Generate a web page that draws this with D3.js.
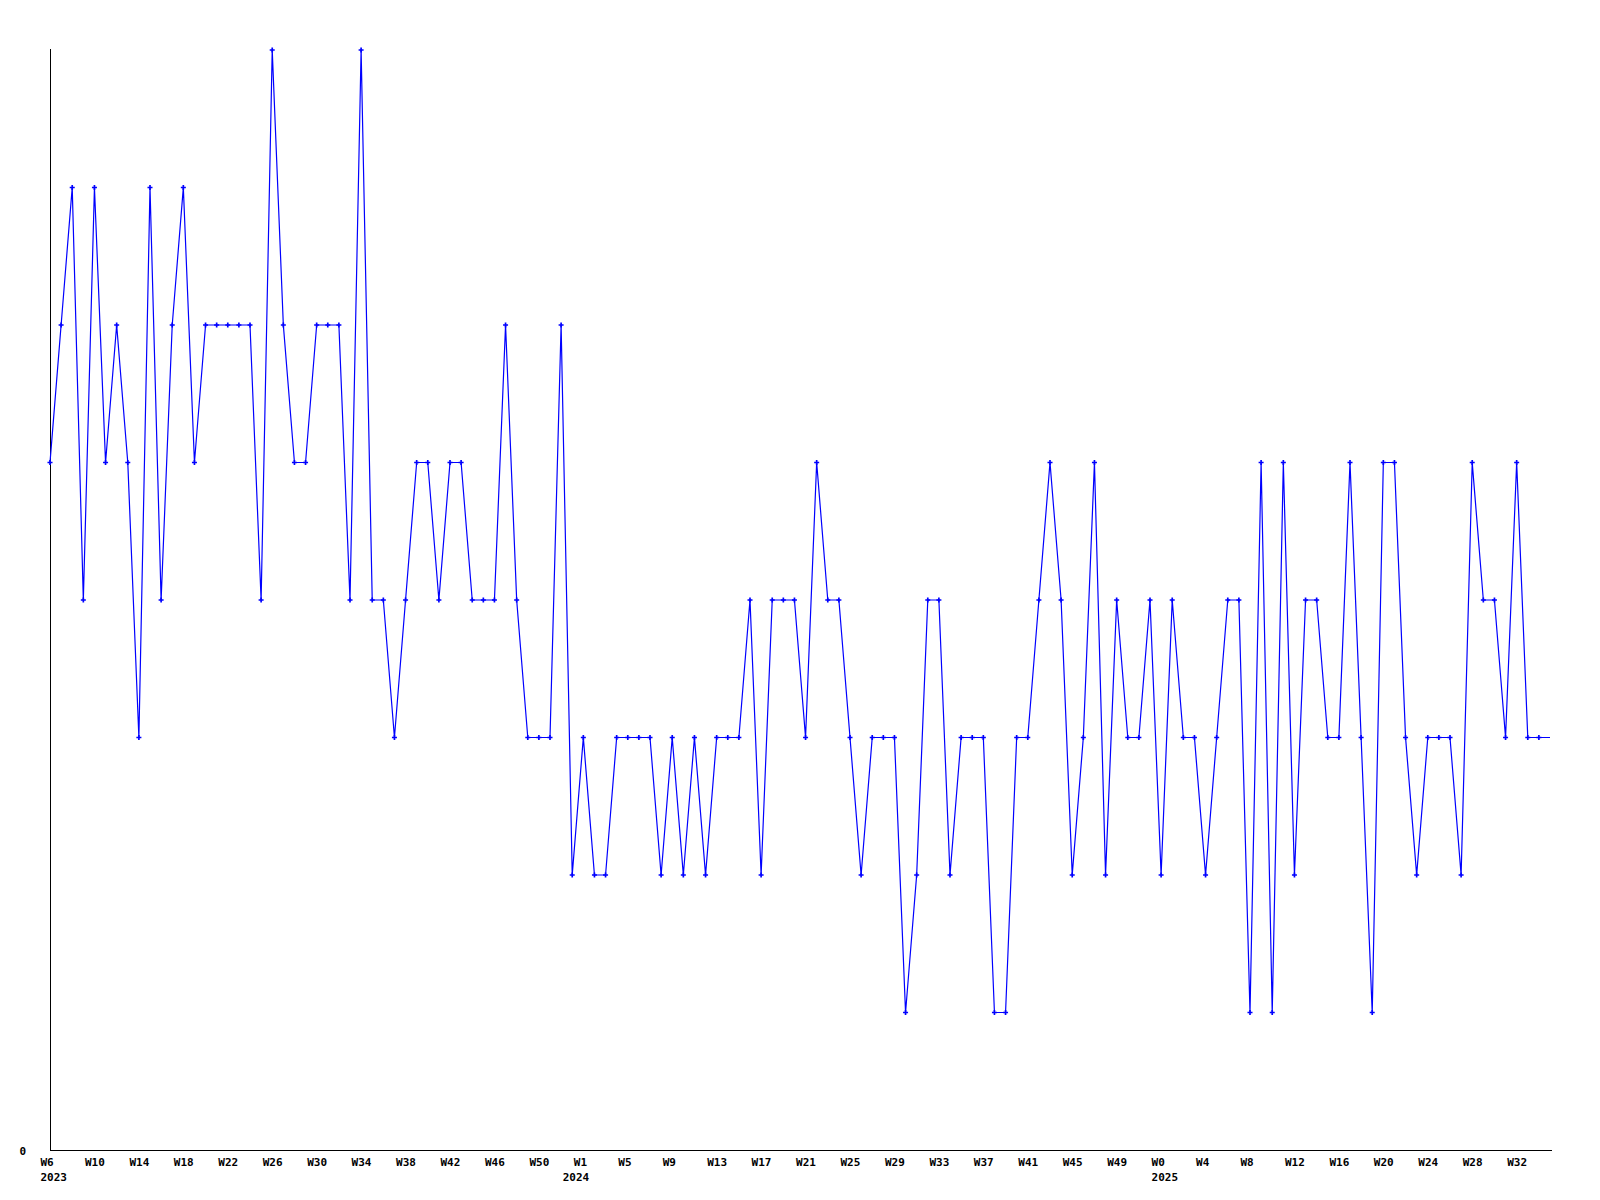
<!DOCTYPE html>
<html>
<head>
<meta charset="utf-8">
<script src="https://cdn.jsdelivr.net/npm/d3@7"></script>
<style>
  html, body { margin: 0; padding: 0; background: #fff; }
  svg { display: block; }
  .tick text { font-family: "DejaVu Sans Mono", monospace; font-weight: bold; font-size: 11px; fill: #000; }
</style>
</head>
<body>
<svg id="chart" width="1600" height="1200"></svg>
<script>
// Weekly values, 2023 W6 .. 2025 W35 (last week partial, no marker)
const values = [
  5,6,7,4,7,5,6,5,3,7,4,6,7,5,6,6,6,6,6,4,8,6,5,
  5,6,6,6,4,8,4,4,3,4,5,5,4,5,5,4,4,4,6,4,3,3,3,
  6,2,3,2,2,3,3,3,3,2,3,2,3,2,3,3,3,4,2,4,4,4,
  3,5,4,4,3,2,3,3,3,1,2,4,4,2,3,3,3,1,1,3,3,4,5,
  4,2,3,5,2,4,3,3,4,2,4,3,3,2,3,4,4,1,5,1,5,2,
  4,4,3,3,5,3,1,5,5,3,2,3,3,3,2,5,4,4,3,5,3,3,
  3
];
// Tick labels, every 4th week position
const tickLabels = [
  "W6","W10","W14","W18","W22","W26","W30","W34","W38","W42","W46","W50",
  "W1","W5","W9","W13","W17","W21","W25","W29","W33","W37","W41","W45","W49",
  "W0","W4","W8","W12","W16","W20","W24","W28","W32"
];
const yearLabels = ["2023","2024","2025"];
const yearStartIndex = [0, 47, 100];
const yTickValues = [0];
const yMax = 8;

(function () {
const svg = d3.select("#chart");
const mLeft = 50, mRight = 1550, mTop = 50, mBottom = 1150;

const x = d3.scaleLinear().domain([0, values.length - 1]).range([mLeft, mRight]);
const y = d3.scaleLinear().domain([0, yMax]).range([mBottom, mTop]);

// axis lines
svg.append("line").attr("x1", mLeft + 0.5).attr("x2", mLeft + 0.5)
  .attr("y1", mTop - 1).attr("y2", mBottom + 0.5)
  .attr("stroke", "#000").attr("stroke-width", 1).attr("shape-rendering", "crispEdges");
svg.append("line").attr("x1", mLeft).attr("x2", mRight + 2)
  .attr("y1", mBottom + 0.5).attr("y2", mBottom + 0.5)
  .attr("stroke", "#000").attr("stroke-width", 1).attr("shape-rendering", "crispEdges");

// x axis week labels
const tickIdx = tickLabels.map((_, i) => i * 4);
const xAxis = d3.axisBottom(x).tickValues(tickIdx)
  .tickFormat((d, i) => tickLabels[i]).tickSize(0).tickPadding(0);
const gx = svg.append("g").attr("transform", `translate(0,${mBottom})`).call(xAxis);
gx.select(".domain").remove();
gx.selectAll(".tick text").attr("text-anchor", "start").attr("dx", -10).attr("y", 16).attr("dy", 0);

// year labels
const yearAxis = d3.axisBottom(x).tickValues(yearStartIndex)
  .tickFormat((d, i) => yearLabels[i]).tickSize(0).tickPadding(0);
const gyear = svg.append("g").attr("transform", `translate(0,${mBottom})`).call(yearAxis);
gyear.select(".domain").remove();
gyear.selectAll(".tick text").attr("text-anchor", "start").attr("dx", -10).attr("y", 31).attr("dy", 0);

// y axis
const yAxis = d3.axisLeft(y).tickValues(yTickValues).tickFormat(d3.format("d")).tickSize(0).tickPadding(24);
const gy = svg.append("g").attr("transform", `translate(${mLeft},0)`).call(yAxis);
gy.select(".domain").remove();
gy.selectAll(".tick text").attr("dy", 0).attr("y", 4);

// line
const line = d3.line().x((d, i) => x(i)).y(d => y(d));
svg.append("path").datum(values)
  .attr("d", line)
  .attr("fill", "none")
  .attr("stroke", "#0000ff")
  .attr("stroke-width", 1.2);

// markers (all but the last partial week)
const sym = d3.symbol().type(d3.symbolCross).size(14);
svg.append("g").selectAll("path")
  .data(values.slice(0, values.length - 1))
  .join("path")
  .attr("transform", (d, i) => `translate(${x(i)},${y(d)})`)
  .attr("d", sym)
  .attr("fill", "#0000ff");
})();
</script>
</body>
</html>
